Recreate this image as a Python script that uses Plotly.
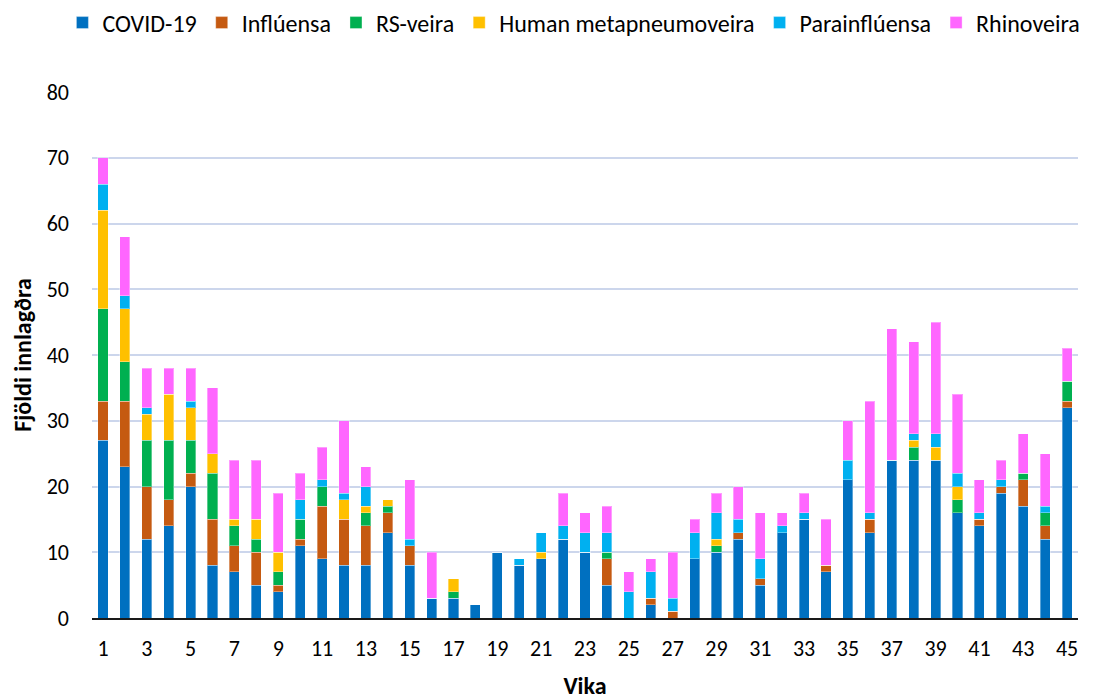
import plotly.graph_objects as go

weeks = list(range(1, 46))
covid = [27, 23, 12, 14, 20, 8, 7, 5, 4, 11, 9, 8, 8, 13, 8, 3, 3, 2, 10, 8, 9, 12, 10, 5, 0, 2, 0, 9, 10, 12,
         5, 13, 15, 7, 21, 13, 24, 24, 24, 16, 14, 19, 17, 12, 32]
influ = [6, 10, 8, 4, 2, 7, 4, 5, 1, 1, 8, 7, 6, 3, 3, 0, 0, 0, 0, 0, 0, 0, 0, 4, 0, 1, 1, 0, 0, 1,
         1, 0, 0, 1, 0, 2, 0, 0, 0, 0, 1, 1, 4, 2, 1]
rsv = [14, 6, 7, 9, 5, 7, 3, 2, 2, 3, 3, 0, 2, 1, 0, 0, 1, 0, 0, 0, 0, 0, 0, 1, 0, 0, 0, 0, 1, 0,
       0, 0, 0, 0, 0, 0, 0, 2, 0, 2, 0, 0, 1, 2, 3]
hmpv = [15, 8, 4, 7, 5, 3, 1, 3, 3, 0, 0, 3, 1, 1, 0, 0, 2, 0, 0, 0, 1, 0, 0, 0, 0, 0, 0, 0, 1, 0,
        0, 0, 0, 0, 0, 0, 0, 1, 2, 2, 0, 0, 0, 0, 0]
para = [4, 2, 1, 0, 1, 0, 0, 0, 0, 3, 1, 1, 3, 0, 1, 0, 0, 0, 0, 1, 3, 2, 3, 3, 4, 4, 2, 4, 4, 2,
        3, 1, 1, 0, 3, 1, 0, 1, 2, 2, 1, 1, 0, 1, 0]
rhino = [4, 9, 6, 4, 5, 10, 9, 9, 9, 4, 5, 11, 3, 0, 9, 7, 0, 0, 0, 0, 0, 5, 3, 4, 3, 2, 7, 2, 3, 5,
         7, 2, 3, 7, 6, 17, 20, 14, 17, 12, 5, 3, 6, 8, 5]

series = [
    ("COVID-19", covid, "#0070C0"),
    ("Inflúensa", influ, "#C55A11"),
    ("RS-veira", rsv, "#00B050"),
    ("Human metapneumoveira", hmpv, "#FFC000"),
    ("Parainflúensa", para, "#00B0F0"),
    ("Rhinoveira", rhino, "#FF66FF"),
]

font_family = "Carlito, Calibri, 'Liberation Sans', sans-serif"

fig = go.Figure()
for name, vals, color in series:
    fig.add_trace(go.Bar(
        x=weeks, y=vals, name=name,
        marker=dict(color=color, line=dict(color="rgba(255,255,255,0.35)", width=1)),
    ))

# The page body adds an 8px offset, so the figure is laid out 8px smaller/shifted.
fig.update_layout(
    barmode="stack",
    bargap=0.54,
    width=1110, height=692,
    margin=dict(l=84, r=40, t=84, b=82, autoexpand=False),
    paper_bgcolor="white",
    plot_bgcolor="white",
    font=dict(family=font_family, size=22, color="#000000"),
    legend=dict(
        orientation="h", x=-0.03, xanchor="left",
        y=1.1312, yanchor="middle",
        font=dict(size=24), itemwidth=30,
        traceorder="normal", tracegroupgap=0,
    ),
    xaxis=dict(
        range=[0.5, 45.5], tickmode="linear", tick0=1, dtick=2,
        showgrid=False, showline=True, linecolor="#1a1a1a", linewidth=2,
        ticks="", tickfont=dict(size=22), ticklabelstandoff=10, automargin=False,
        title=dict(text="<b>Vika</b>", font=dict(size=24), standoff=16),
    ),
    yaxis=dict(
        range=[0, 80], dtick=10, showgrid=True, gridcolor="#CCD6EC", gridwidth=1.5,
        zeroline=False, showline=False, ticks="", tickfont=dict(size=22),
        ticklabelstandoff=22, automargin=False,
        title=dict(text="<b>Fjöldi innlagðra</b>", font=dict(size=24), standoff=8),
    ),
)

fig.write_html("out.html")
